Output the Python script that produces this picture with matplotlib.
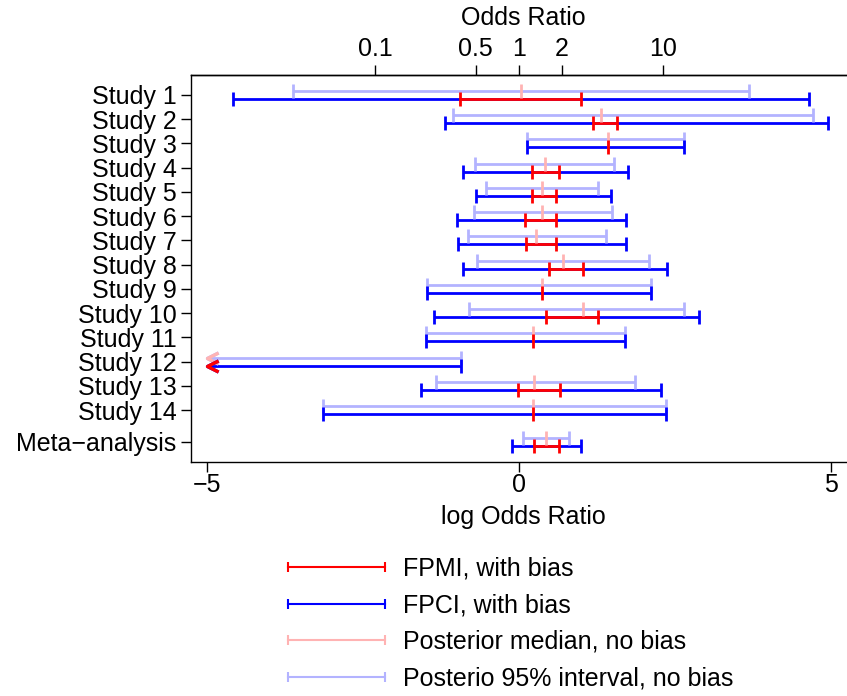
import numpy as np
import matplotlib.pyplot as plt
from matplotlib.lines import Line2D
from matplotlib.path import Path

plt.rcParams['font.family'] = ['Liberation Sans', 'DejaVu Sans']
plt.rcParams['font.size'] = 18

labels = ['Study %d' % i for i in range(1, 15)] + ['Meta\u2212analysis']
ypos = list(range(1, 15)) + [15.3]

# FPCI, with bias
ci_lo = [-4.57, -1.18, 0.13, -0.90, -0.68, -0.99, -0.98, -0.90, -1.47, -1.36, -1.48, -6.0, -1.57, -3.14, -0.11]
ci_hi = [4.64, 4.95, 2.64, 1.75, 1.48, 1.71, 1.71, 2.38, 2.11, 2.88, 1.70, -0.92, 2.28, 2.36, 1.00]
# FPMI, with bias
mi_lo = [-0.94, 1.18, 1.43, 0.21, 0.21, 0.10, 0.12, 0.49, 0.37, 0.44, 0.23, -6.0, -0.01, 0.22, 0.25]
mi_hi = [1.00, 1.57, 1.43, 0.65, 0.59, 0.60, 0.60, 1.03, 0.37, 1.27, 0.23, -6.0, 0.66, 0.22, 0.64]
# posterior, no bias
post_lo = [-3.62, -1.06, 0.13, -0.70, -0.53, -0.72, -0.82, -0.67, -1.47, -0.79, -1.48, -6.0, -1.32, -3.14, 0.06]
post_hi = [3.69, 4.71, 2.64, 1.53, 1.27, 1.49, 1.39, 2.08, 2.11, 2.64, 1.70, -0.92, 1.86, 2.36, 0.80]
post_med = [0.03, 1.32, 1.43, 0.42, 0.37, 0.37, 0.28, 0.71, 0.37, 1.02, 0.23, -6.0, 0.24, 0.22, 0.44]

or_ticks = [0.1, 0.5, 1, 2, 10]

red = '#FF0000'
blue = '#0000FF'
pink = '#FFB3B3'
lblue = '#B3B3FF'

alim = -5.0   # anything left of this is drawn as an arrow
arrow = Path([(2.0, 1), (0, 0), (2.0, -1)], [Path.MOVETO, Path.LINETO, Path.LINETO])

fig = plt.figure(figsize=(8.47, 6.96), dpi=100)
ax = fig.add_axes([191 / 847, 1 - 461.7 / 696, (855 - 191) / 847, (461.7 - 75.3) / 696])


def tick(y, x, color, ms=10):
    if x < alim:
        ax.plot([alim], [y], marker=arrow, ms=16, mew=2.4, color=color,
                fillstyle='none', ls='none', zorder=4)
    else:
        ax.plot([x], [y], marker='|', ms=ms, mew=2.0, color=color, ls='none', zorder=4)


def interval(y, lo, hi, color):
    if hi >= alim and hi > lo:
        ax.plot([max(lo, alim), hi], [y, y], color=color, lw=2.0,
                solid_capstyle='butt', zorder=3)
    if hi < alim:
        tick(y, lo, color)
        return
    tick(y, lo, color)
    if hi != lo:
        tick(y, hi, color)


d = 0.165
for i, y in enumerate(ypos):
    interval(y - d, post_lo[i], post_hi[i], lblue)
    tick(y - d, post_med[i], pink)
    interval(y + d, ci_lo[i], ci_hi[i], blue)
    interval(y + d, mi_lo[i], mi_hi[i], red)

ax.set_xlim(-5.25, (855 - 518.9) / 62.43)
ax.set_ylim(16.13, 0.19)
ax.set_yticks(ypos)
ax.set_yticklabels(labels)
ax.set_xticks([-5, 0, 5])
ax.set_xlabel('log Odds Ratio', labelpad=6)
ax.tick_params(axis='x', length=7, width=1, pad=1)
ax.tick_params(axis='y', length=7, width=1, pad=3.5)
for s in ax.spines.values():
    s.set_linewidth(1.0)

top = ax.secondary_xaxis('top')
top.set_xticks(np.log(or_ticks))
top.set_xticklabels([str(v) for v in or_ticks])
top.set_xlabel('Odds Ratio', labelpad=9)
top.tick_params(length=7, width=1, pad=3)
top.spines['top'].set_linewidth(1.0)

handles = [
    Line2D([], [], color=red, lw=1.5, marker='|', ms=7, mew=1.5),
    Line2D([], [], color=blue, lw=1.5, marker='|', ms=7, mew=1.5),
    Line2D([], [], color=pink, lw=1.5, marker='|', ms=7, mew=1.5),
    Line2D([], [], color=lblue, lw=1.5, marker='|', ms=7, mew=1.5),
]
legend_labels = ['FPMI, with bias', 'FPCI, with bias',
                 'Posterior median, no bias', 'Posterio 95% interval, no bias']
fig.legend(handles, legend_labels, loc='center left',
           bbox_to_anchor=(280.5 / 847, 1 - 623.5 / 696), frameon=False,
           numpoints=2, handlelength=4.48, handletextpad=0.42,
           labelspacing=0.5, borderpad=0, borderaxespad=0, fontsize=18)

fig.savefig('out.png', dpi=100)
